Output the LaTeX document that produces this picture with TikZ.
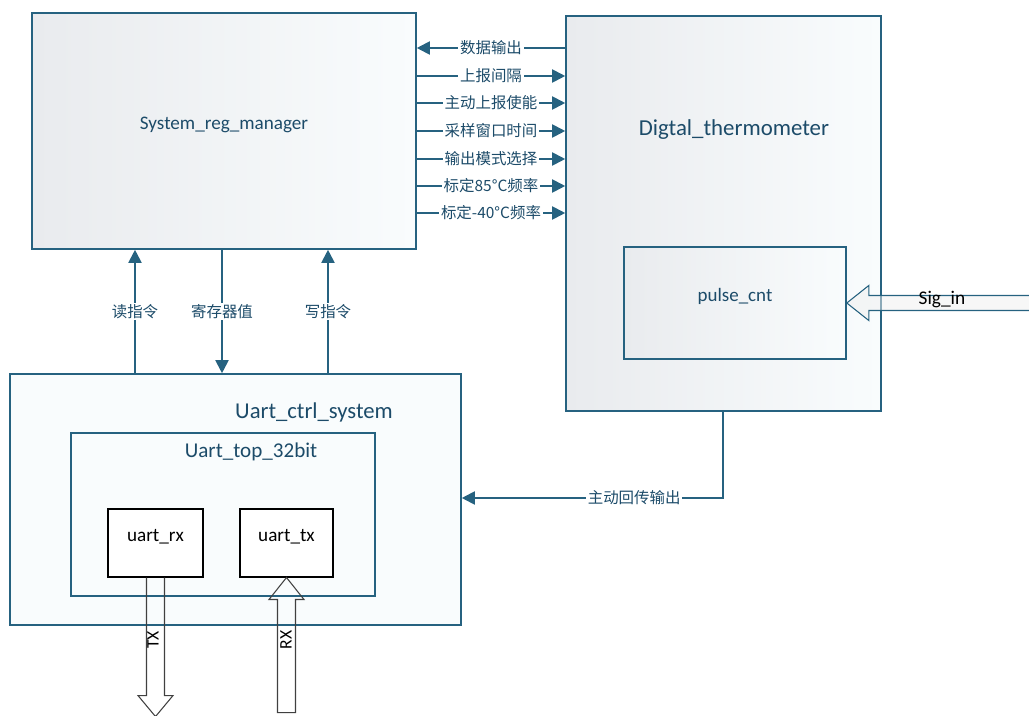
\documentclass[tikz,border=0pt]{standalone}
\usepackage{fontspec}
\setmainfont{Carlito}
\newfontfamily\cjk{Noto Sans CJK SC}
\usetikzlibrary{arrows.meta,fit,calc}
\definecolor{lnblue}{RGB}{38,98,128}
\definecolor{txblue}{RGB}{28,75,105}
\definecolor{boxgray}{RGB}{233,235,238}
\definecolor{boxcyan}{RGB}{249,252,253}
\tikzset{
  blk/.style={draw=lnblue, line width=0.9pt, left color=boxgray, right color=boxcyan, inner sep=0pt, text=txblue},
  pale/.style={draw=lnblue, line width=0.9pt, fill=boxcyan, inner sep=0pt},
  sub/.style={draw=black, line width=0.6pt, fill=white, inner sep=0pt},
  sig/.style={draw=lnblue, line width=1.1pt, -{Triangle[length=7.5pt,width=7.5pt]}},
  tag/.style={fill=white, inner sep=1pt, text=txblue, font=\cjk\fontsize{8.8}{10}\selectfont},
  fat/.style={draw=black!75, line width=0.6pt, line join=miter},
}
\begin{document}
\begin{tikzpicture}[x=0.02cm,y=-0.02cm]
\useasboundingbox (0,0) rectangle (1029,716);
% boxes
\node[blk, fit={(32,13) (416,249)}, font=\fontsize{10.9}{12}\selectfont] (reg) {System\_reg\_manager};
\node[blk, fit={(566,16) (881,411)}] (thermo) {};
\node[text=txblue, font=\fontsize{13}{15}\selectfont] (thermotitle) at (734,130) {Digtal\_thermometer};
\node[blk, fit={(624,247) (846,359)}, font=\fontsize{10.8}{12}\selectfont] (pulse) {pulse\_cnt};
\node[pale, fit={(10,374) (461,625)}] (uart) {};
\node[text=txblue, font=\fontsize{12.9}{15}\selectfont] (uarttitle) at (314,412) {Uart\_ctrl\_system};
\node[pale, fit={(71,433) (375,596)}] (top) {};
\node[text=txblue, font=\fontsize{12}{14}\selectfont] (toptitle) at (251,452) {Uart\_top\_32bit};
\node[sub, fit={(108,509) (203,577)}, font=\fontsize{10.9}{12}\selectfont] (rx) {uart\_rx};
\node[sub, fit={(240,509) (333,577)}, font=\fontsize{10.9}{12}\selectfont] (tx) {uart\_tx};

% register signals
\draw[sig] (thermo.west |- 0,48) -- (reg.east |- 0,48) node[midway,tag]{数据输出};
\foreach \yy/\txt in {76/上报间隔, 103/主动上报使能, 131/采样窗口时间, 159/输出模式选择, 186/标定85°C频率, 213/标定-40°C频率}
  \draw[sig] (reg.east |- 0,\yy) -- (thermo.west |- 0,\yy) node[midway,tag]{\txt};

\draw[sig] (uart.north -| 135,0) -- (reg.south -| 135,0) node[midway,tag]{读指令};
\draw[sig] (reg.south -| 222,0) -- (uart.north -| 222,0) node[midway,tag]{寄存器值};
\draw[sig] (uart.north -| 328,0) -- (reg.south -| 328,0) node[midway,tag]{写指令};
\draw[sig] (thermo.south -| 723,0) |- (uart.east |- 0,498) node[pos=0.67,tag]{主动回传输出};

% block arrows
\draw[fat, draw=lnblue, fill=gray!12, fill opacity=0.5] (pulse.east) -- ++(22,-17.5) -- ++(0,10) -- ++(170,0) -- ++(0,15) -- ++(-170,0) -- ++(0,10) -- cycle;
\node[font=\fontsize{11}{12}\selectfont] (sigin) at (942,300) {Sig\_in};
\draw[fat] (rx.south) ++(-9,0) -- ++(0,118) -- ++(-8.5,0) -- ++(17.5,21) -- ++(17.5,-21) -- ++(-8.5,0) -- ++(0,-118);
\node[rotate=90, font=\fontsize{10}{12}\selectfont] (txlbl) at (153,640) {TX};
\draw[fat] (tx.south) -- ++(17.5,22) -- ++(-8.5,0) -- ++(0,113) -- ++(-18,0) -- ++(0,-113) -- ++(-8.5,0) -- cycle;
\node[rotate=90, font=\fontsize{10}{12}\selectfont] (rxlbl) at (286,640) {RX};
\end{tikzpicture}
\end{document}
